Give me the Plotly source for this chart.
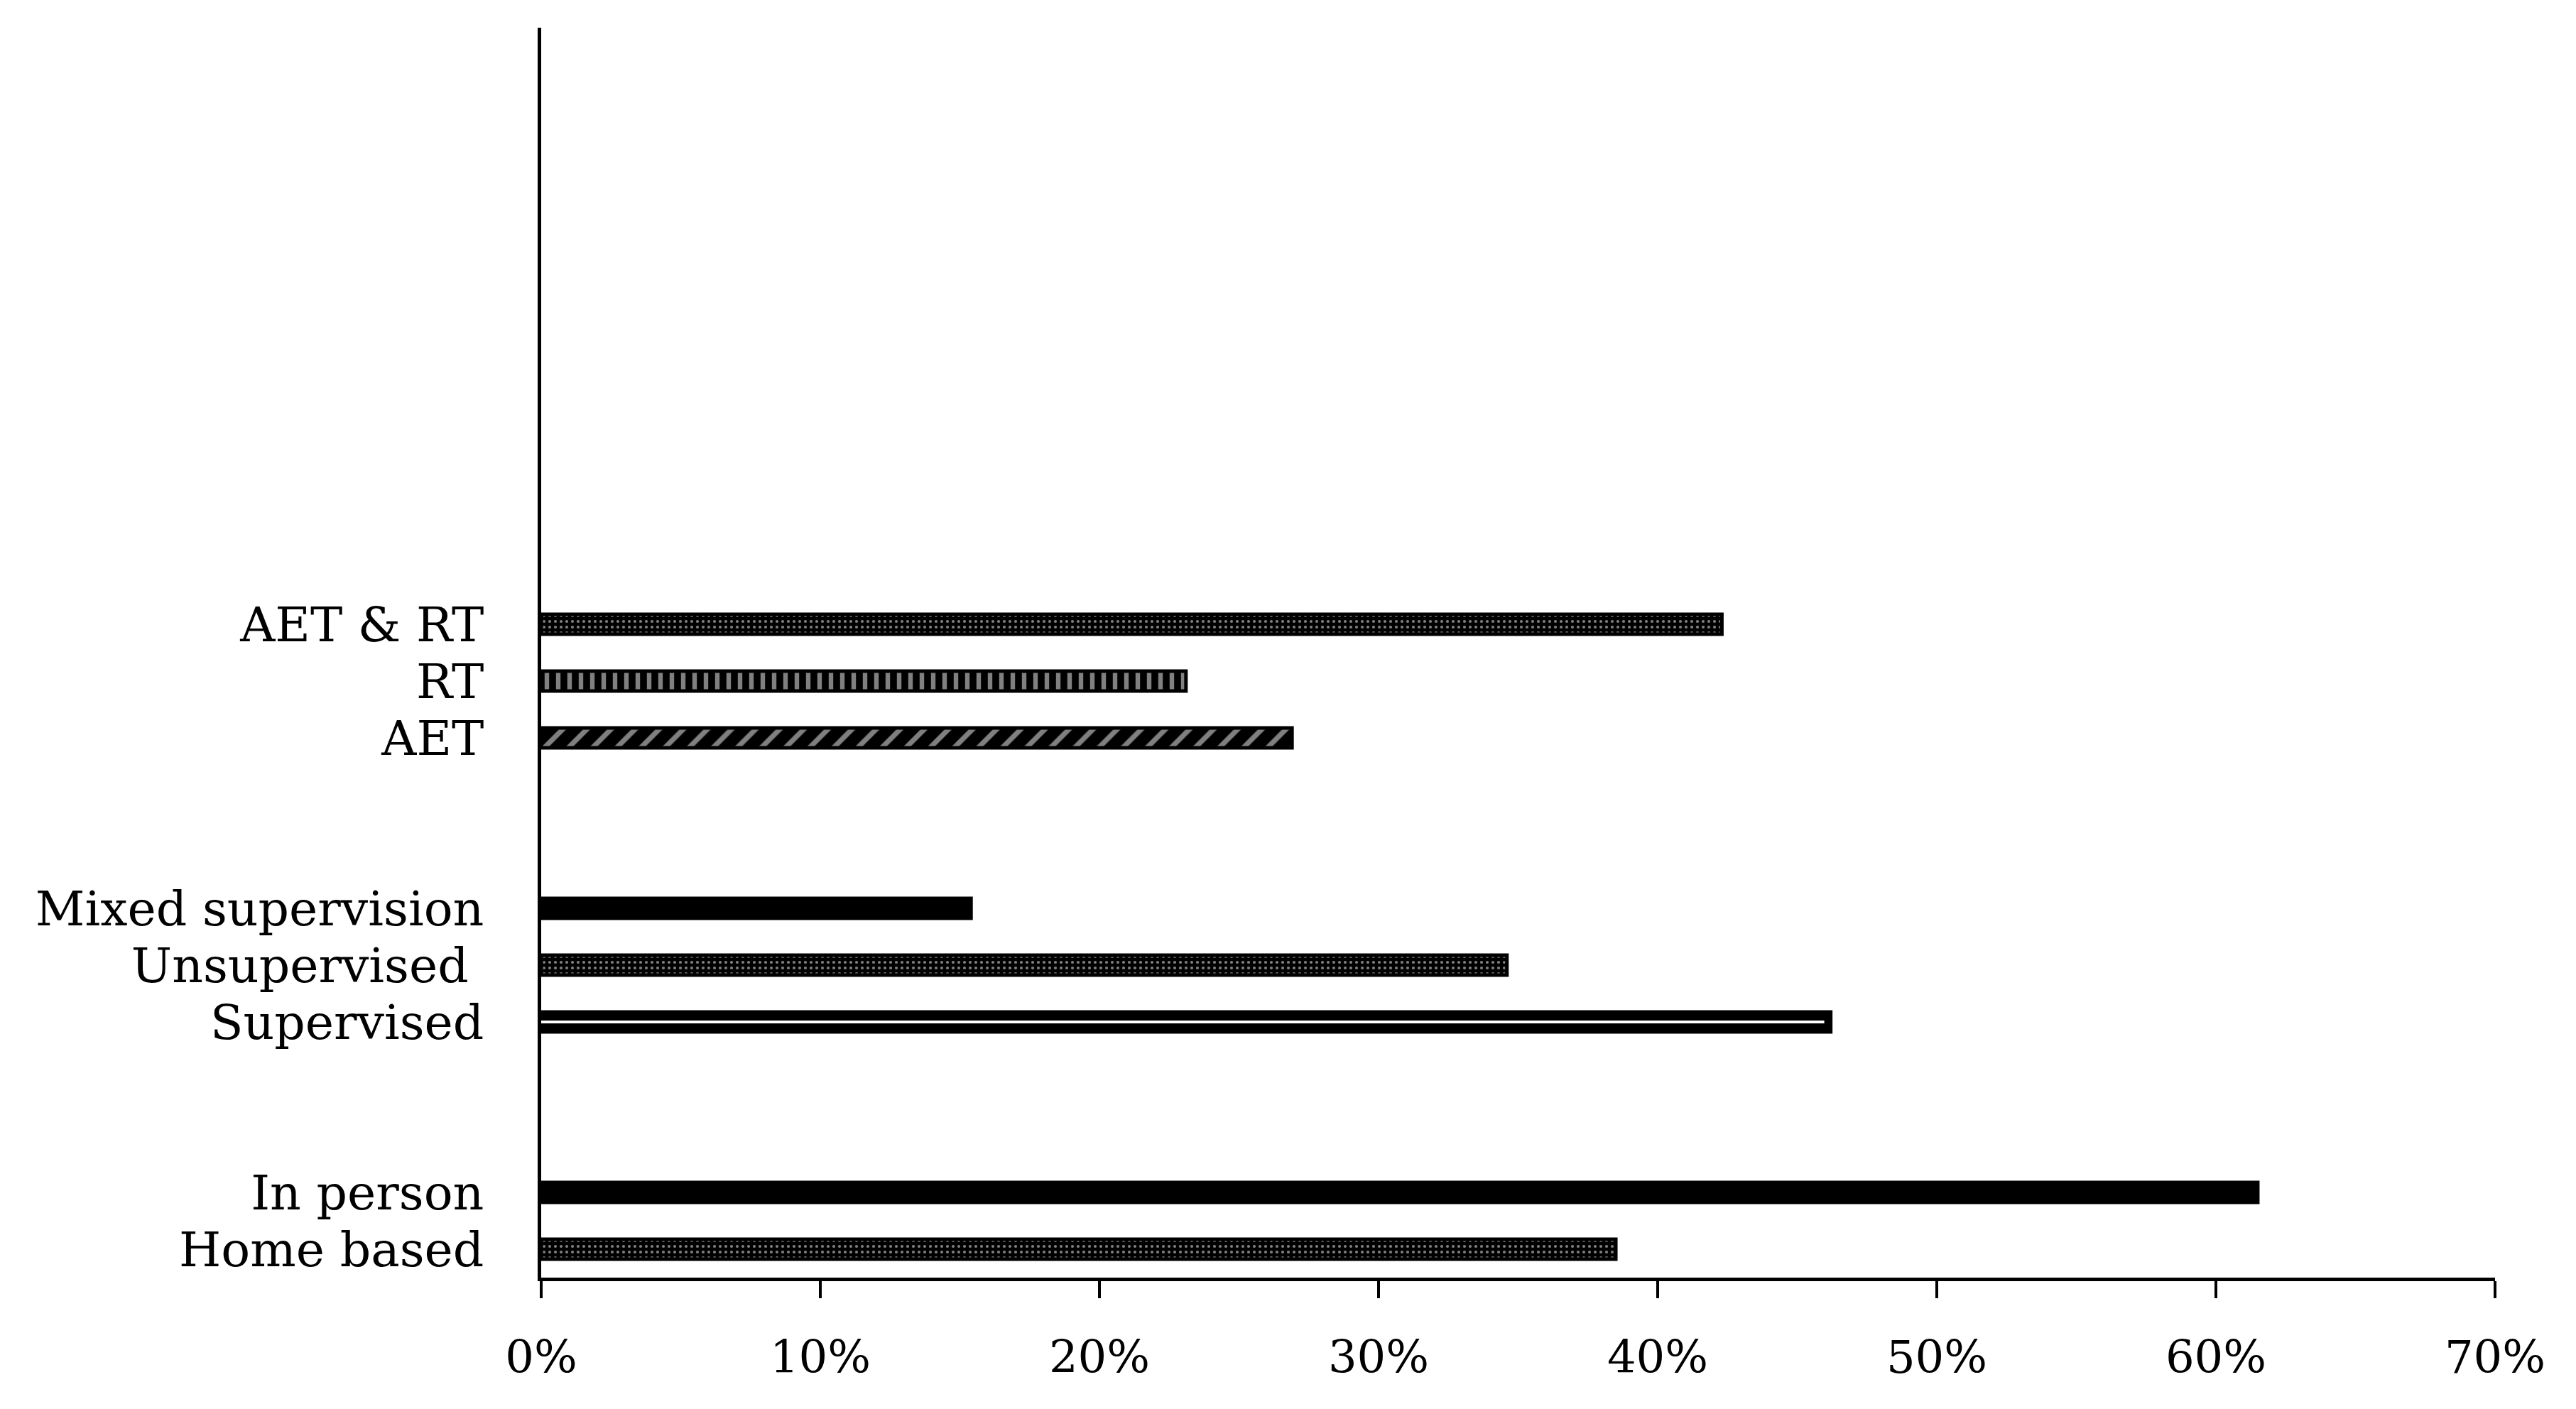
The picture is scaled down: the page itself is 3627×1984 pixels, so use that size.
import plotly.graph_objects as go

# ---- data (bottom group first, each group listed bottom-to-top) ----
group_delivery = ["Home based", "In person"]
values_delivery = [38.5, 61.5]
group_supervision = ["Supervised", "Unsupervised\u00a0", "Mixed supervision"]
values_supervision = [46.2, 34.6, 15.4]
group_training = ["AET", "RT", "AET & RT"]
values_training = [26.9, 23.1, 42.3]

x_ticks = [0, 10, 20, 30, 40, 50, 60, 70]
x_tick_labels = ["0%", "10%", "20%", "30%", "40%", "50%", "60%", "70%"]

# pattern per bar (same order as groups)
patterns = [".", "", "-", ".", "", "/", "|", "."]

# ---- build positions: groups separated by two empty slots ----
groups = [(group_delivery, values_delivery),
          (group_supervision, values_supervision),
          (group_training, values_training)]
labels, values, ypos = [], [], []
slot = 0
for names, vals in groups:
    for n, v in zip(names, vals):
        labels.append(n)
        values.append(v)
        ypos.append(slot)
        slot += 1
    slot += 2
n_slots = 22

shapes = []
sizes = []
solids = []
for p in patterns:
    if p == ".":
        shapes.append("."); sizes.append(8); solids.append(0.22)
    elif p == "/":
        shapes.append("/"); sizes.append(24); solids.append(0.3)
    elif p == "|":
        shapes.append("|"); sizes.append(16); solids.append(0.4)
    else:
        shapes.append(""); sizes.append(8); solids.append(0.3)

fig = go.Figure()
fig.add_trace(go.Bar(
    x=values, y=ypos, orientation="h", width=0.35,
    marker=dict(color="black",
                line=dict(color="black", width=5),
                pattern=dict(shape=shapes, fgcolor="white", bgcolor="black",
                             size=sizes, solidity=solids)),
    showlegend=False, hoverinfo="skip"))

# thin white centre line of the "Supervised" bar
sup_idx = [i for i, p in enumerate(patterns) if p == "-"]
fig.add_trace(go.Bar(
    x=[values[i] * 0.995 for i in sup_idx], y=[ypos[i] for i in sup_idx],
    orientation="h", width=0.05,
    marker=dict(color="white", line=dict(width=0)),
    showlegend=False, hoverinfo="skip"))

font_family = "DejaVu Serif"
fig.update_layout(
    width=3627, height=1984,
    margin=dict(l=754, r=122, t=31, b=193),
    paper_bgcolor="white", plot_bgcolor="white",
    barmode="overlay",
    font=dict(family=font_family, size=62, color="black"),
    xaxis=dict(range=[0, 70], tickvals=x_ticks, ticktext=x_tick_labels,
               showgrid=False, zeroline=False, showline=True,
               linecolor="black", linewidth=5, ticks="outside",
               ticklen=24, tickwidth=4, tickcolor="black",
               ticklabelstandoff=28,
               tickfont=dict(family=font_family, size=64)),
    yaxis=dict(range=[-0.5, n_slots - 0.5], tickvals=ypos, ticktext=labels,
               showgrid=False, zeroline=False, showline=True,
               linecolor="black", linewidth=5, ticks="",
               ticklabelstandoff=62,
               tickfont=dict(family=font_family, size=68)),
)

fig.write_html("out.html")
